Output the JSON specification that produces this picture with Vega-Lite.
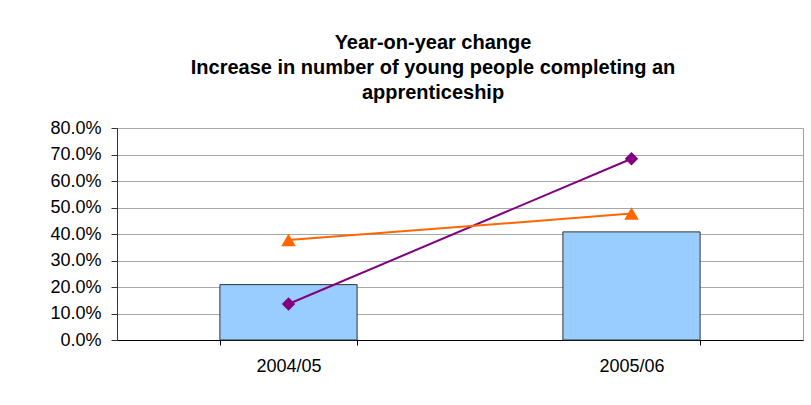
{
  "$schema": "https://vega.github.io/schema/vega-lite/v6.json",
  "autosize": "none",
  "width": 686,
  "height": 212,
  "padding": {"left": 117, "top": 128, "right": 8, "bottom": 65},
  "background": "white",
  "title": {
    "text": ["Year-on-year change", "Increase in number of young people completing an", "apprenticeship"],
    "font": "Liberation Sans",
    "fontSize": 20,
    "fontWeight": "bold",
    "color": "black",
    "lineHeight": 25,
    "anchor": "middle",
    "frame": "group",
    "dx": -27,
    "offset": 16
  },
  "data": {
    "values": [
      {"year": "2004/05", "series": "bar", "value": 0.209},
      {"year": "2005/06", "series": "bar", "value": 0.408},
      {"year": "2004/05", "series": "purple", "value": 0.136},
      {"year": "2005/06", "series": "purple", "value": 0.684},
      {"year": "2004/05", "series": "orange", "value": 0.377},
      {"year": "2005/06", "series": "orange", "value": 0.477}
    ]
  },
  "encoding": {
    "x": {
      "field": "year",
      "type": "nominal",
      "title": null,
      "scale": {"paddingInner": 0.6, "paddingOuter": 0.3},
      "axis": {
        "labelAngle": 0,
        "labelFont": "Liberation Sans",
        "labelFontSize": 18,
        "labelColor": "black",
        "labelPadding": 12,
        "domainColor": "black",
        "tickColor": "black",
        "tickBand": "extent",
        "tickSize": 5,
        "grid": false
      }
    },
    "y": {
      "field": "value",
      "type": "quantitative",
      "title": null,
      "scale": {"domain": [0, 0.8], "nice": false},
      "axis": {
        "values": [0, 0.1, 0.2, 0.3, 0.4, 0.5, 0.6, 0.7, 0.8],
        "format": ".1%",
        "labelOverlap": false,
        "labelFont": "Liberation Sans",
        "labelFontSize": 18,
        "labelColor": "black",
        "labelPadding": 10,
        "domainColor": "#333333",
        "tickColor": "#333333",
        "tickSize": 6,
        "gridColor": "#A8A8A8",
        "gridOpacity": 1
      }
    }
  },
  "layer": [
    {
      "transform": [{"filter": "datum.series === 'bar'"}],
      "mark": {"type": "bar", "color": "#99CCFF", "stroke": "#333333", "strokeWidth": 1}
    },
    {
      "transform": [{"filter": "datum.series === 'purple'"}],
      "mark": {"type": "line", "color": "#800080", "strokeWidth": 2}
    },
    {
      "transform": [{"filter": "datum.series === 'purple'"}],
      "mark": {"type": "point", "shape": "diamond", "filled": true, "color": "#800080", "size": 180, "opacity": 1}
    },
    {
      "transform": [{"filter": "datum.series === 'orange'"}],
      "mark": {"type": "line", "color": "#FF6600", "strokeWidth": 2}
    },
    {
      "transform": [{"filter": "datum.series === 'orange'"}],
      "mark": {"type": "point", "shape": "triangle-up", "filled": true, "color": "#FF6600", "size": 210, "opacity": 1}
    }
  ],
  "config": {
    "view": {"stroke": "#A0A0A0"}
  }
}
